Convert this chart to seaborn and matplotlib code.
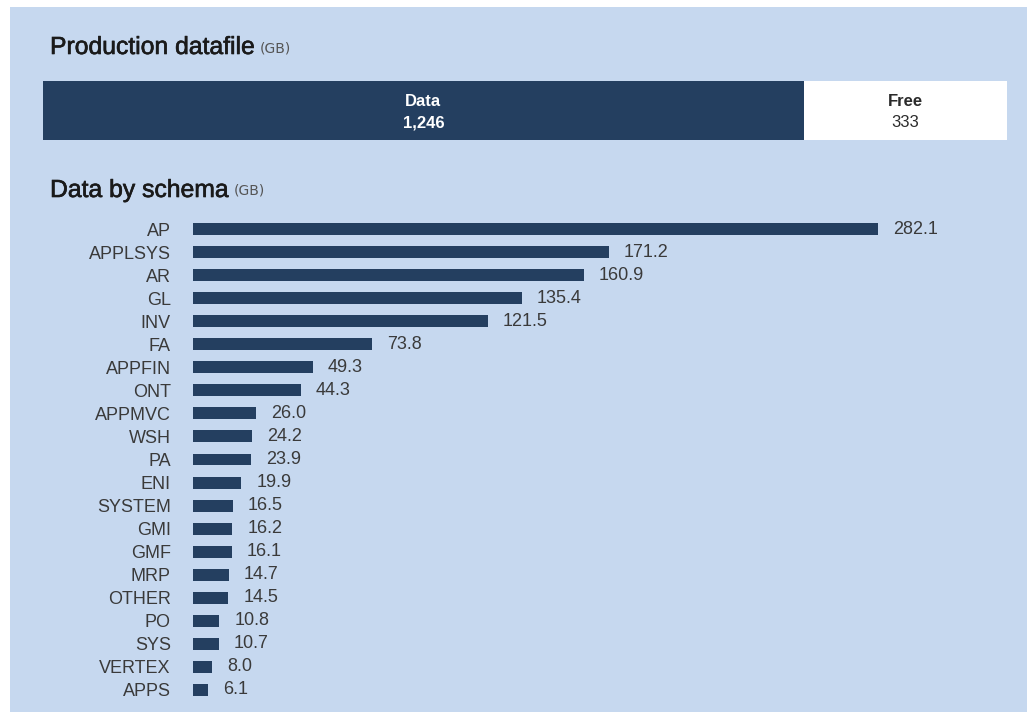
import matplotlib
matplotlib.use("Agg")
import matplotlib.pyplot as plt
import matplotlib.patheffects as pe
import seaborn as sns
import pandas as pd

# ---- data ----
file_segments = ["Data", "Free"]
file_values = [1246, 333]

schemas = ["AP", "APPLSYS", "AR", "GL", "INV", "FA", "APPFIN", "ONT", "APPMVC", "WSH",
           "PA", "ENI", "SYSTEM", "GMI", "GMF", "MRP", "OTHER", "PO", "SYS", "VERTEX", "APPS"]
schema_gb = [282.1, 171.2, 160.9, 135.4, 121.5, 73.8, 49.3, 44.3, 26.0, 24.2,
             23.9, 19.9, 16.5, 16.2, 16.1, 14.7, 14.5, 10.8, 10.7, 8.0, 6.1]

NAVY = "#243f60"
BG = "#c6d8ef"
TXT = "#2b2b2b"
FONT = ["Liberation Sans", "DejaVu Sans"]

sns.set_theme(style="white")
plt.rcParams["font.family"] = FONT

W, H = 1027, 719
fig = plt.figure(figsize=(W / 100, H / 100), dpi=100, facecolor="white")

def fx(px):
    return px / W

def fy(py):
    return 1 - py / H

# background panel
bg_ax = fig.add_axes([fx(10), fy(712), fx(1027 - 10), (712 - 7) / H], zorder=-10)
bg_ax.set_facecolor(BG)
bg_ax.set_xticks([])
bg_ax.set_yticks([])
for s in bg_ax.spines.values():
    s.set_visible(False)

# ---- top stacked bar ----
total = sum(file_values)
ax1 = fig.add_axes([fx(43), fy(140), fx(1007 - 43), 59 / H])
df_tot = pd.DataFrame({"k": ["file"], "v": [total]})
df_dat = pd.DataFrame({"k": ["file"], "v": [file_values[0]]})
sns.barplot(data=df_tot, x="v", y="k", ax=ax1, color="white", width=1.0,
            saturation=1, edgecolor="none")
sns.barplot(data=df_dat, x="v", y="k", ax=ax1, color=NAVY, width=1.0,
            saturation=1, edgecolor="none")
ax1.set_xlim(0, total)
ax1.set_ylim(0.5, -0.5)
ax1.axis("off")
cx_data = file_values[0] / 2
cx_free = file_values[0] + file_values[1] / 2
ax1.text(cx_data, -0.16, file_segments[0], ha="center", va="center", color="white",
         fontsize=12, fontweight="bold")
ax1.text(cx_data, 0.21, f"{file_values[0]:,}", ha="center", va="center", color="white",
         fontsize=12, fontweight="bold")
ax1.text(cx_free, -0.16, file_segments[1], ha="center", va="center", color=TXT,
         fontsize=12, fontweight="bold")
ax1.text(cx_free, 0.21, f"{file_values[1]:,}", ha="center", va="center", color=TXT,
         fontsize=12)

# titles
thick = [pe.withStroke(linewidth=0.45, foreground="#1a1a1a")]
t1 = fig.text(fx(50), fy(47), "Production datafile", fontsize=17.8, color="#1a1a1a",
              ha="left", va="center", path_effects=thick)
fig.canvas.draw()
bb = t1.get_window_extent()
fig.text(bb.x1 / W + fx(5), fy(48), "(GB)", fontsize=10, color="#555555", ha="left",
         va="center", family=["DejaVu Sans"])

t2 = fig.text(fx(50), fy(190), "Data by schema", fontsize=17.8, color="#1a1a1a",
              ha="left", va="center", path_effects=thick)
fig.canvas.draw()
bb2 = t2.get_window_extent()
fig.text(bb2.x1 / W + fx(5), fy(191), "(GB)", fontsize=10, color="#555555", ha="left",
         va="center", family=["DejaVu Sans"])

# ---- schema bars ----
px_per_unit = (878 - 193) / 282.1
left_px, right_px = 193, 1007
top_px, bot_px = 229 - 11.5, 690 + 11.5
ax2 = fig.add_axes([fx(left_px), fy(bot_px), fx(right_px - left_px), (bot_px - top_px) / H])
df = pd.DataFrame({"schema": schemas, "gb": schema_gb})
sns.barplot(data=df, x="gb", y="schema", ax=ax2, color=NAVY, saturation=1,
            width=0.52, edgecolor="none", order=schemas)
ax2.set_xlim(0, (right_px - left_px) / px_per_unit)
ax2.set_facecolor("none")
for s in ax2.spines.values():
    s.set_visible(False)
ax2.set_xlabel("")
ax2.set_ylabel("")
ax2.set_xticks([])
ax2.tick_params(axis="y", length=0, pad=16, labelsize=13, labelcolor="#3a3a3a")
for i, v in enumerate(schema_gb):
    ax2.text(v + 15 / px_per_unit, i, f"{v:.1f}", va="center", ha="left",
             fontsize=13, color="#3a3a3a")

fig.savefig("out.png", dpi=100, facecolor="white")
